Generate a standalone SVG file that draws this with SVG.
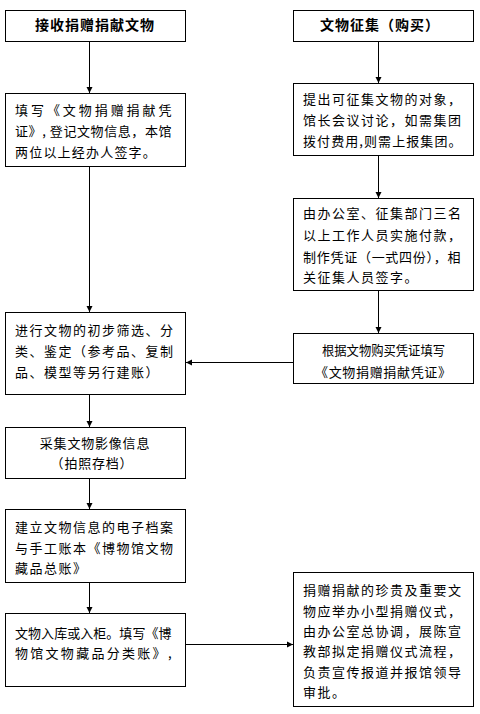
<svg xmlns="http://www.w3.org/2000/svg" width="480" height="714" viewBox="0 0 480 714">
<style>
.box{fill:#fff;stroke:#000;stroke-width:1}
.t{font-family:"Noto Sans CJK SC","Liberation Sans",sans-serif;font-size:13px;fill:#000;letter-spacing:1.5px}
.c{text-anchor:middle;letter-spacing:0.8px}
.h{font-family:"Noto Sans CJK SC","Liberation Sans",sans-serif;font-size:14px;font-weight:bold;fill:#000;text-anchor:middle;letter-spacing:1px}
.ln{stroke:#000;stroke-width:1;fill:none;marker-end:url(#ah)}
</style>
<defs>
<marker id="ah" markerUnits="userSpaceOnUse" markerWidth="7" markerHeight="7" refX="6" refY="3.5" orient="auto">
<path d="M0,0.5 L6,3.5 L0,6.5 z" fill="#000"/>
</marker>
</defs>
<rect width="480" height="714" fill="#fff"/>
<g id="connectors">
<line class="ln" x1="89.5" y1="41.5" x2="89.5" y2="93"/>
<line class="ln" x1="89.5" y1="166.5" x2="89.5" y2="312"/>
<line class="ln" x1="89.5" y1="394.5" x2="89.5" y2="427"/>
<line class="ln" x1="89.5" y1="478.5" x2="89.5" y2="509"/>
<line class="ln" x1="89.5" y1="582.5" x2="89.5" y2="613"/>
<line class="ln" x1="378.5" y1="41.5" x2="378.5" y2="83"/>
<line class="ln" x1="378.5" y1="155.5" x2="378.5" y2="198"/>
<line class="ln" x1="378.5" y1="290.5" x2="378.5" y2="333"/>
<line class="ln" x1="293.5" y1="362.5" x2="186" y2="362.5"/>
<line class="ln" x1="185.5" y1="644.5" x2="293" y2="644.5"/>
</g>
<g id="n1">
<rect class="box" x="5.5" y="10.5" width="180" height="31"/>
<text class="h" x="95" y="30">接收捐赠捐献文物</text>
</g>
<g id="n2">
<rect class="box" x="5.5" y="93.5" width="180" height="73"/>
<text class="t" x="15" y="115" textLength="158" lengthAdjust="spacing">填写《文物捐赠捐献凭</text>
<text class="t" x="15" y="136" textLength="158" lengthAdjust="spacing">证》, 登记文物信息，本馆</text>
<text class="t" x="15" y="157" style="letter-spacing:1.2px">两位以上经办人签字。</text>
</g>
<g id="n3">
<rect class="box" x="5.5" y="312.5" width="180" height="82"/>
<text class="t" x="15" y="335">进行文物的初步筛选、分</text>
<text class="t" x="15" y="356">类、鉴定（参考品、复制</text>
<text class="t" x="15" y="377">品、模型等另行建账）</text>
</g>
<g id="n4">
<rect class="box" x="5.5" y="427.5" width="180" height="51"/>
<text class="t c" x="95" y="448">采集文物影像信息</text>
<text class="t c" x="92" y="468">（拍照存档）</text>
</g>
<g id="n5">
<rect class="box" x="5.5" y="509.5" width="180" height="73"/>
<text class="t" x="15" y="532">建立文物信息的电子档案</text>
<text class="t" x="15" y="553">与手工账本《博物馆文物</text>
<text class="t" x="15" y="573">藏品总账》</text>
</g>
<g id="n6">
<rect class="box" x="5.5" y="613.5" width="180" height="73"/>
<text class="t" x="15" y="638" textLength="158" lengthAdjust="spacing">文物入库或入柜。填写《博</text>
<text class="t" x="15" y="658" textLength="158" lengthAdjust="spacing">物馆文物藏品分类账》,</text>
</g>
<g id="n7">
<rect class="box" x="293.5" y="10.5" width="180" height="31"/>
<text class="h" x="380" y="30">文物征集（购买）</text>
</g>
<g id="n8">
<rect class="box" x="293.5" y="83.5" width="180" height="72"/>
<text class="t" x="303" y="104">提出可征集文物的对象，</text>
<text class="t" x="303" y="125">馆长会议讨论，如需集团</text>
<text class="t" x="303" y="146" textLength="160" lengthAdjust="spacing">拨付费用,则需上报集团。</text>
</g>
<g id="n9">
<rect class="box" x="293.5" y="198.5" width="180" height="92"/>
<text class="t" x="303" y="218">由办公室、征集部门三名</text>
<text class="t" x="303" y="240">以上工作人员实施付款，</text>
<text class="t" x="303" y="261.5" textLength="159" lengthAdjust="spacing">制作凭证（一式四份），相</text>
<text class="t" x="303" y="281.5">关征集人员签字。</text>
</g>
<g id="n10">
<rect class="box" x="293.5" y="333.5" width="180" height="50"/>
<text class="t" x="322" y="355" textLength="123" lengthAdjust="spacingAndGlyphs" style="letter-spacing:0">根据文物购买凭证填写</text>
<text class="t" x="315" y="377" textLength="136" lengthAdjust="spacing" style="letter-spacing:0">《文物捐赠捐献凭证》</text>
</g>
<g id="n11">
<rect class="box" x="293.5" y="572.5" width="180" height="134"/>
<text class="t" x="303" y="595">捐赠捐献的珍贵及重要文</text>
<text class="t" x="303" y="615.5">物应举办小型捐赠仪式，</text>
<text class="t" x="303" y="636">由办公室总协调，展陈宣</text>
<text class="t" x="303" y="656">教部拟定捐赠仪式流程，</text>
<text class="t" x="303" y="676.5">负责宣传报道并报馆领导</text>
<text class="t" x="303" y="697">审批。</text>
</g>
</svg>
